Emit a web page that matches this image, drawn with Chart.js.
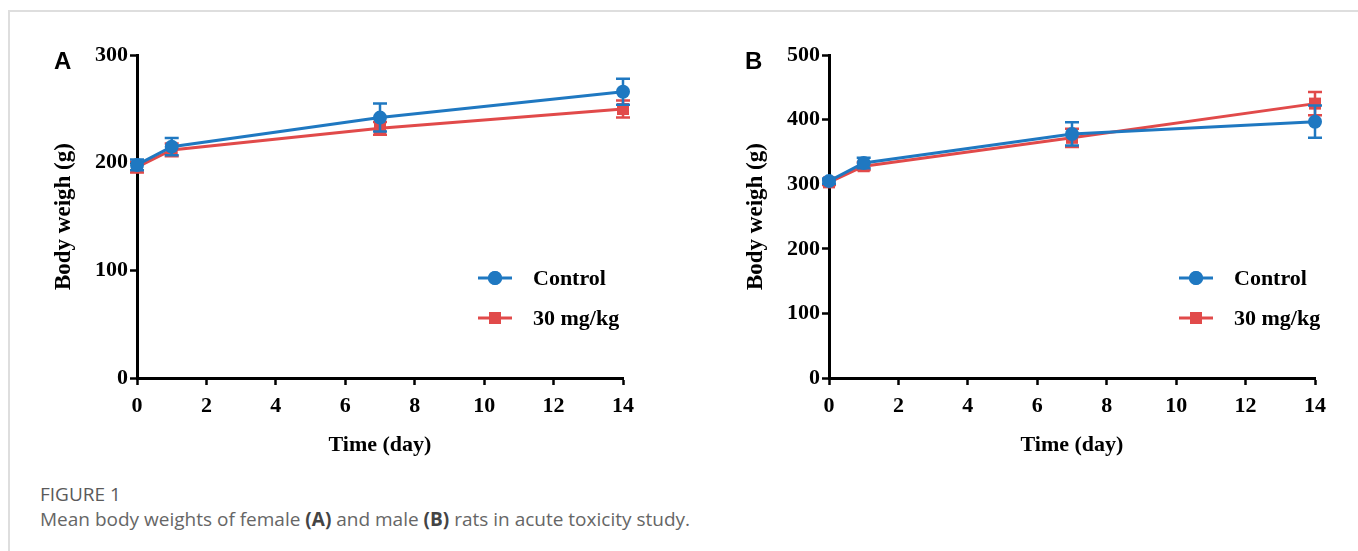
<!DOCTYPE html>
<html>
<head>
<meta charset="utf-8">
<script src="https://cdn.jsdelivr.net/npm/chart.js@4.4.1/dist/chart.umd.min.js"></script>
<style>
  body { margin: 0; background: #fff; width: 1358px; height: 551px; position: relative; overflow: hidden; }
  .frame { position: absolute; left: 8px; top: 10px; right: 0; bottom: 0; border-left: 2px solid #dedede; border-top: 2px solid #dedede; }
  .panel { position: absolute; top: 40px; width: 640px; height: 420px; }
  #panelA { left: 20px; }
  #panelB { left: 712px; }
  .letter { position: absolute; top: 47px; font: bold 24px "Liberation Sans", Arial, sans-serif; color: #000; }
  .caption { position: absolute; left: 40px; font-family: "Open Sans", sans-serif; color: #666; font-size: 19px; white-space: nowrap; }
  .caption b { color: #444; }
</style>
</head>
<body>
<div class="frame"></div>
<div class="panel" id="panelA"><canvas id="chartA"></canvas></div>
<div class="panel" id="panelB"><canvas id="chartB"></canvas></div>
<div class="letter" style="left:54px">A</div>
<div class="letter" style="left:745px">B</div>
<div class="caption" style="top:481px;color:#5a5a5a;">FIGURE 1</div>
<div class="caption" style="top:506px;">Mean body weights of female <b>(A)</b> and male <b>(B)</b> rats in acute toxicity study.</div>

<script>
// data
const days = [0, 1, 7, 14];
const seriesNames = ['Control', '30 mg/kg'];

// female rats (A)
const femaleControl = [198, 215, 242, 266];
const femaleControlSD = [5, 8, 13, 12];
const femaleDose = [196, 212, 232, 250];
const femaleDoseSD = [5, 6, 6, 8];

// male rats (B)
const maleControl = [305, 333, 378, 397];
const maleControlSD = [4, 8, 18, 25];
const maleDose = [303, 328, 372, 425];
const maleDoseSD = [4, 6, 14, 18];

const yTicksA = [0, 100, 200, 300];
const yTicksB = [0, 100, 200, 300, 400, 500];
const xTicks = [0, 2, 4, 6, 8, 10, 12, 14];

const BLUE = '#1f78c1';
const RED = '#e14a4a';
const serif = '"Liberation Serif", "Times New Roman", serif';

// error bars, drawn just before each dataset so markers sit on top
const errorBars = {
  id: 'errorBars',
  beforeDatasetDraw(chart, args) {
    const ds = chart.data.datasets[args.index];
    if (!ds.sd) return;
    const x = chart.scales.x, y = chart.scales.y;
    const ctx = chart.ctx;
    ctx.save();
    ctx.strokeStyle = ds.borderColor;
    ctx.lineWidth = 2.5;
    ds.data.forEach((p, i) => {
      const px = x.getPixelForValue(p.x);
      const top = y.getPixelForValue(p.y + ds.sd[i]);
      const bot = y.getPixelForValue(p.y - ds.sd[i]);
      ctx.beginPath();
      ctx.moveTo(px, top); ctx.lineTo(px, bot);
      ctx.moveTo(px - 7, top); ctx.lineTo(px + 7, top);
      ctx.moveTo(px - 7, bot); ctx.lineTo(px + 7, bot);
      ctx.stroke();
    });
    ctx.restore();
  }
};

// legend inside the plot, line + marker then label
const innerLegend = {
  id: 'innerLegend',
  afterDraw(chart, args, opts) {
    const ctx = chart.ctx;
    ctx.save();
    chart.data.datasets.forEach((ds, i) => {
      const cy = opts.y + i * 40;
      ctx.strokeStyle = ds.borderColor;
      ctx.lineWidth = 3;
      ctx.beginPath();
      ctx.moveTo(opts.x, cy); ctx.lineTo(opts.x + 34, cy);
      ctx.stroke();
      ctx.fillStyle = ds.borderColor;
      Chart.helpers.drawPoint(ctx, { pointStyle: ds.pointStyle, radius: ds.pointRadius, borderWidth: 0 }, opts.x + 17, cy);
      ctx.fill();
      ctx.fillStyle = '#000';
      ctx.font = 'bold 22px ' + serif;
      ctx.textBaseline = 'middle';
      ctx.fillText(ds.label, opts.x + 55, cy + 1);
    });
    ctx.restore();
  }
};

function makeSet(label, values, sd, color, style, radius) {
  return {
    label: label,
    data: days.map((d, i) => ({ x: d, y: values[i] })),
    sd: sd,
    borderColor: color,
    backgroundColor: color,
    borderWidth: 3,
    pointStyle: style,
    pointRadius: radius,
    pointBorderWidth: 0,
    pointBackgroundColor: color,
    clip: false,
    tension: 0
  };
}

function makeChart(id, control, controlSD, dose, doseSD, yMax, yTicks, legendX) {
  return new Chart(document.getElementById(id), {
    type: 'line',
    data: {
      datasets: [
        makeSet(seriesNames[0], control, controlSD, BLUE, 'circle', 7),
        makeSet(seriesNames[1], dose, doseSD, RED, 'rect', 8.5)
      ]
    },
    options: {
      responsive: true,
      maintainAspectRatio: false,
      animation: false,
      layout: { padding: { left: 30, right: 37, top: 15, bottom: 0 } },
      plugins: {
        legend: { display: false },
        tooltip: { enabled: false },
        innerLegend: { x: legendX, y: 238 }
      },
      scales: {
        x: {
          type: 'linear', min: 0, max: 14,
          afterBuildTicks: s => { s.ticks = xTicks.map(v => ({ value: v })); },
          afterFit: s => { s.height = 82; },
          border: { display: true, color: '#000', width: 3 },
          grid: { drawOnChartArea: false, drawTicks: true, tickLength: 7, tickWidth: 2.5, tickColor: '#000' },
          ticks: { color: '#000', padding: 8, font: { family: serif, size: 22, weight: 'bold' } },
          title: { display: true, text: 'Time (day)', color: '#000', padding: { top: 0, bottom: 1 },
                   font: { family: serif, size: 22, weight: 'bold' } }
        },
        y: {
          min: 0, max: yMax,
          afterBuildTicks: s => { s.ticks = yTicks.map(v => ({ value: v })); },
          afterFit: s => { s.width = 87; },
          border: { display: true, color: '#000', width: 3 },
          grid: { drawOnChartArea: false, drawTicks: true, tickLength: 7, tickWidth: 2.5, tickColor: '#000' },
          ticks: { color: '#000', padding: 2, font: { family: serif, size: 22, weight: 'bold' } },
          title: { display: true, text: 'Body weigh (g)', color: '#000', padding: 0,
                   font: { family: serif, size: 23, weight: 'bold' } }
        }
      }
    },
    plugins: [errorBars, innerLegend]
  });
}

makeChart('chartA', femaleControl, femaleControlSD, femaleDose, femaleDoseSD, 300, yTicksA, 458);
makeChart('chartB', maleControl, maleControlSD, maleDose, maleDoseSD, 500, yTicksB, 467);
</script>
</body>
</html>
